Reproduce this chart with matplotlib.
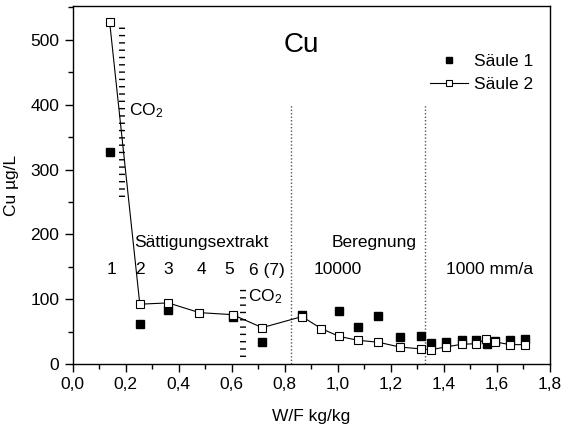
import matplotlib
matplotlib.use("Agg")
import matplotlib.pyplot as plt
from matplotlib.ticker import MultipleLocator, FuncFormatter

plt.rcParams['font.family'] = ['Liberation Sans', 'DejaVu Sans']
plt.rcParams['mathtext.fontset'] = 'custom'
plt.rcParams['mathtext.rm'] = 'Liberation Sans'
plt.rcParams['mathtext.it'] = 'Liberation Sans'
plt.rcParams['lines.scale_dashes'] = False

# Säule 2 (open squares with line)
s2_x = [0.140, 0.254, 0.361, 0.479, 0.604, 0.716, 0.866, 0.939, 1.006, 1.077, 1.154,
        1.234, 1.316, 1.354, 1.409, 1.468, 1.524, 1.560, 1.595, 1.652, 1.706]
s2_y = [528, 92.6, 94.6, 79.6, 76.5, 56.5, 73.5, 55, 43, 37, 34,
        26.7, 23.6, 22.6, 26.7, 30.8, 31.8, 39, 34.4, 30.3, 30.3]

# Säule 1 (filled squares)
s1_x = [0.140, 0.254, 0.360, 0.604, 0.715, 0.866, 1.006, 1.077, 1.154, 1.234,
        1.316, 1.354, 1.409, 1.468, 1.524, 1.563, 1.595, 1.652, 1.706]
s1_y = [327.6, 61.7, 83.3, 72.5, 34, 76, 81.8, 58, 74, 41.7,
        43, 32.4, 34.4, 37, 38, 31.8, 36.5, 38, 39]

# vertical dotted separators
vline_x = [0.825, 1.331]
vline_top = 400

# CO2 hatch columns
co2_x = [0.185, 0.645]
co2_lo = [258, 12]
co2_hi = [528, 124]

x_ticks = [0.0, 0.2, 0.4, 0.6, 0.8, 1.0, 1.2, 1.4, 1.6, 1.8]
y_ticks = [0, 100, 200, 300, 400, 500]

fig = plt.figure(figsize=(5.62, 4.28), dpi=100)
ax = fig.add_axes([72.5/562, 1 - 364.3/428, (549.5-72.5)/562, (364.3-6)/428])
ax.set_xlim(0, 1.8)
ax.set_ylim(0, 552)

for xv in vline_x:
    ax.plot([xv, xv], [0, vline_top], color='#555555', lw=1.0, ls=(0, (1, 1.5)), zorder=1)

for xv, lo, hi in zip(co2_x, co2_lo, co2_hi):
    ax.plot([xv, xv], [lo, hi], color='black', lw=4.3, dashes=(1.0, 4.26),
            solid_capstyle='butt', dash_capstyle='butt', zorder=2)

ax.plot(s1_x, s1_y, ls='none', marker='s', ms=5.3, color='black', mec='black', zorder=3, label='Säule 1')
ax.plot(s2_x, s2_y, ls='-', lw=0.8, color='black', marker='s', ms=6, mfc='white', mec='black',
        mew=0.8, zorder=4, label='Säule 2')

ax.set_xticks(x_ticks)
ax.set_yticks(y_ticks)
ax.xaxis.set_minor_locator(MultipleLocator(0.1))
ax.yaxis.set_minor_locator(MultipleLocator(50))
ax.xaxis.set_major_formatter(FuncFormatter(lambda v, p: f"{v:.1f}".replace('.', ',')))
ax.tick_params(which='major', direction='out', length=6, width=1, labelsize=12.5, top=False, right=False)
ax.tick_params(which='minor', direction='out', length=3.5, width=1, top=False, right=False)
for sp in ax.spines.values():
    sp.set_linewidth(1.0)

ax.set_xlabel('W/F kg/kg', fontsize=12.5, labelpad=12)
ax.set_ylabel('Cu µg/L', fontsize=12.5, labelpad=8)

def px(xp, yp):
    return (xp/562, 1 - yp/428)

fs = 12.5
fig.text(*px(301, 45), 'Cu', fontsize=20, ha='center', va='center')
fig.text(*px(129, 111), 'CO$_2$', fontsize=fs, ha='left', va='center')
fig.text(*px(248, 297), 'CO$_2$', fontsize=fs, ha='left', va='center')
fig.text(*px(201, 242), 'Sättigungsextrakt', fontsize=fs, ha='center', va='center')
for lab, xp in [('1', 111), ('2', 140), ('3', 168), ('4', 201), ('5', 229)]:
    fig.text(*px(xp, 270), lab, fontsize=fs, ha='center', va='center')
fig.text(*px(249, 270), '6 (7)', fontsize=fs, ha='left', va='center')
fig.text(*px(374, 242), 'Beregnung', fontsize=fs, ha='center', va='center')
fig.text(*px(338, 270), '10000', fontsize=fs, ha='center', va='center')
fig.text(*px(490, 270), '1000 mm/a', fontsize=fs, ha='center', va='center')

leg = ax.legend(loc='upper left', bbox_to_anchor=px(430, 54), bbox_transform=fig.transFigure,
                frameon=False, fontsize=fs, handlelength=2.2, handletextpad=0.35,
                labelspacing=0.45, borderpad=0, borderaxespad=0, markerscale=0.8)

fig.savefig('out.png', dpi=100)
